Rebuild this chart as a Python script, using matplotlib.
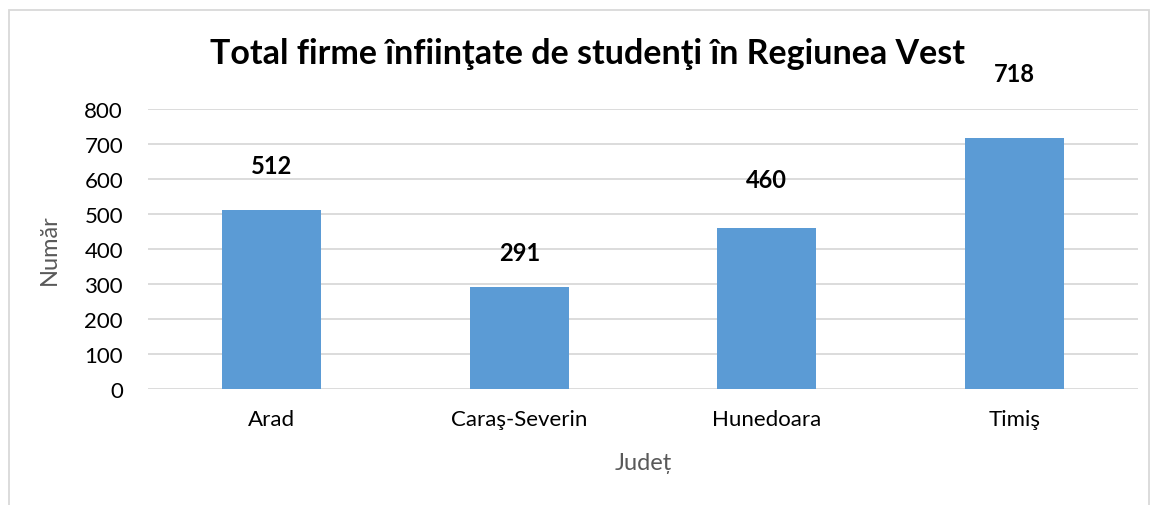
import matplotlib.pyplot as plt
import numpy as np
from matplotlib.patches import Rectangle

plt.rcParams['font.family'] = ['Lato', 'DejaVu Sans']

judete = ['Arad', 'Caraş-Severin', 'Hunedoara', 'Timiş']
firme = [512, 291, 460, 718]
yticks = [0, 100, 200, 300, 400, 500, 600, 700, 800]

# label offsets (points) above each bar, as placed in the original
label_off = [32, 25, 35, 46]

fig = plt.figure(figsize=(11.52, 5.06), dpi=100)
ax = fig.add_axes([0.1285, 0.229, 0.8595, 0.554])

x = np.arange(len(judete))
ax.bar(x, firme, width=0.4, color='#5B9BD5', zorder=3)
for xi, v, off in zip(x, firme, label_off):
    ax.annotate(str(v), (xi, v), xytext=(0, off), textcoords='offset points',
                ha='center', va='center', fontsize=17, fontweight='bold',
                color='black', annotation_clip=False)

ax.set_xlim(-0.5, len(judete) - 0.5)
ax.set_ylim(0, 800)
ax.set_yticks(yticks)
ax.set_xticks(x)
ax.set_xticklabels(judete)
ax.tick_params(axis='both', length=0, labelsize=16, colors='black')
ax.tick_params(axis='x', pad=14)
ax.tick_params(axis='y', pad=18)
ax.grid(axis='y', color='#D9D9D9', linewidth=1.3, zorder=0)
for s in ax.spines.values():
    s.set_visible(False)

ax.set_ylabel('Număr', fontsize=17, color='#595959')
ax.yaxis.set_label_coords(-0.089, 0.5)
ax.set_xlabel('Județ', fontsize=17, color='#595959')
ax.xaxis.set_label_coords(0.5, -0.225)

fig.text(0.51, 0.893, 'Total firme înfiinţate de studenţi în Regiunea Vest',
         ha='center', va='center', fontsize=24.5, fontweight='bold')

fig.patches.append(Rectangle((9 / 1152, -0.05), 1140 / 1152, 1 - 11 / 506 + 0.05,
                             transform=fig.transFigure, fill=False,
                             edgecolor='#D9D9D9', linewidth=1.3))

fig.savefig('out.png', dpi=100)
